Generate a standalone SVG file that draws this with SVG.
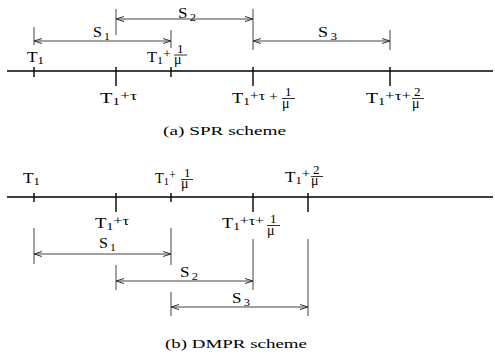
<svg xmlns="http://www.w3.org/2000/svg" width="495" height="358" viewBox="0 0 495 358">
<style>
text{font-family:"Liberation Serif","Times New Roman",serif;fill:#000}
.m{font-size:15px}
.s{font-size:11px}
.p{font-size:13px}
.f{font-size:13px}
.mu{font-size:14px}
.cap{font-size:13px}
.axis{stroke:#000;stroke-width:1.6;fill:none}
.tick{stroke:#111;stroke-width:1.5;fill:none}
.dim{stroke:#444;stroke-width:1;fill:none}
.bar{stroke:#000;stroke-width:0.8}
</style>
<defs>
<marker id="arr" markerUnits="userSpaceOnUse" markerWidth="10" markerHeight="8" refX="9" refY="4" orient="auto-start-reverse">
<path d="M1,1.5 L9,4 L1,6.5" fill="none" stroke="#333" stroke-width="1"/>
</marker>
</defs>
<rect width="495" height="358" fill="#fff"/>

<!-- (a) SPR scheme -->
<g id="axis-a">
<line class="axis" x1="7" y1="71" x2="493" y2="71"/>
<line class="tick" x1="34" y1="67" x2="34" y2="77"/>
<line class="tick" x1="116" y1="67" x2="116" y2="86"/>
<line class="tick" x1="171" y1="67" x2="171" y2="77"/>
<line class="tick" x1="253" y1="67" x2="253" y2="86"/>
<line class="tick" x1="390" y1="67" x2="390" y2="86"/>
</g>
<g id="connectors-a">
<line class="dim" x1="34" y1="27" x2="34" y2="45"/>
<line class="dim" x1="171" y1="30" x2="171" y2="48"/>
<line class="dim" x1="34" y1="41" x2="171" y2="41" marker-start="url(#arr)" marker-end="url(#arr)"/>
<line class="dim" x1="116" y1="9" x2="116" y2="35"/>
<line class="dim" x1="253" y1="9" x2="253" y2="50"/>
<line class="dim" x1="116" y1="19" x2="253" y2="19" marker-start="url(#arr)" marker-end="url(#arr)"/>
<line class="dim" x1="390" y1="30" x2="390" y2="50"/>
<line class="dim" x1="253" y1="41" x2="390" y2="41" marker-start="url(#arr)" marker-end="url(#arr)"/>
</g>
<g id="labels-a">
<text x="93" y="37" textLength="17" lengthAdjust="spacingAndGlyphs"><tspan class="m">S</tspan><tspan class="s" dx="2" dy="3">1</tspan></text>
<text x="178" y="18" textLength="18" lengthAdjust="spacingAndGlyphs"><tspan class="m">S</tspan><tspan class="s" dx="2" dy="3">2</tspan></text>
<text x="318" y="37" textLength="19" lengthAdjust="spacingAndGlyphs"><tspan class="m">S</tspan><tspan class="s" dx="2" dy="3">3</tspan></text>

<text x="27" y="62" textLength="17" lengthAdjust="spacingAndGlyphs"><tspan class="m">T</tspan><tspan class="s" dy="2">1</tspan></text>

<text x="147" y="62" textLength="24" lengthAdjust="spacingAndGlyphs"><tspan class="m">T</tspan><tspan class="s" dy="2">1</tspan><tspan class="p" dy="-6">+</tspan></text>
<text class="f" x="177" y="52.5">1</text><line class="bar" x1="174" y1="55" x2="187" y2="55"/><text class="mu" x="174" y="64">μ</text>

<text x="100" y="103" textLength="37" lengthAdjust="spacingAndGlyphs"><tspan class="m">T</tspan><tspan class="s" dy="2">1</tspan><tspan class="p" dy="-5">+τ</tspan></text>

<text x="232" y="103" textLength="46" lengthAdjust="spacingAndGlyphs"><tspan class="m">T</tspan><tspan class="s" dy="2">1</tspan><tspan class="p" dy="-5">+τ</tspan><tspan class="p" dy="1"> +</tspan></text>
<text class="f" x="285" y="96">1</text><line class="bar" x1="282" y1="98.5" x2="295" y2="98.5"/><text class="mu" x="282" y="107.5">μ</text>

<text x="366" y="103" textLength="45" lengthAdjust="spacingAndGlyphs"><tspan class="m">T</tspan><tspan class="s" dy="2">1</tspan><tspan class="p" dy="-5">+τ+</tspan></text>
<text class="f" x="414" y="96">2</text><line class="bar" x1="412" y1="98.5" x2="424" y2="98.5"/><text class="mu" x="412" y="107.5">μ</text>

<text class="cap" x="163" y="134.5" textLength="123" lengthAdjust="spacingAndGlyphs">(a) SPR scheme</text>
</g>

<!-- (b) DMPR scheme -->
<g id="axis-b">
<line class="axis" x1="7" y1="197" x2="493" y2="197"/>
<line class="tick" x1="34" y1="193" x2="34" y2="202"/>
<line class="tick" x1="116" y1="193" x2="116" y2="212"/>
<line class="tick" x1="171" y1="193" x2="171" y2="202"/>
<line class="tick" x1="253" y1="193" x2="253" y2="212"/>
<line class="tick" x1="308" y1="193" x2="308" y2="212"/>
</g>
<g id="connectors-b">
<line class="dim" x1="34" y1="228" x2="34" y2="264"/>
<line class="dim" x1="171" y1="228" x2="171" y2="265"/>
<line class="dim" x1="34" y1="254" x2="171" y2="254" marker-start="url(#arr)" marker-end="url(#arr)"/>
<line class="dim" x1="116" y1="265" x2="116" y2="290"/>
<line class="dim" x1="253" y1="239" x2="253" y2="290"/>
<line class="dim" x1="116" y1="281" x2="253" y2="281" marker-start="url(#arr)" marker-end="url(#arr)"/>
<line class="dim" x1="171" y1="292" x2="171" y2="316"/>
<line class="dim" x1="308" y1="239" x2="308" y2="316"/>
<line class="dim" x1="171" y1="307" x2="308" y2="307" marker-start="url(#arr)" marker-end="url(#arr)"/>
</g>
<g id="labels-b">
<text x="99" y="248" textLength="17" lengthAdjust="spacingAndGlyphs"><tspan class="m">S</tspan><tspan class="s" dx="2" dy="3">1</tspan></text>
<text x="180" y="277" textLength="18" lengthAdjust="spacingAndGlyphs"><tspan class="m">S</tspan><tspan class="s" dx="2" dy="3">2</tspan></text>
<text x="232" y="303" textLength="18" lengthAdjust="spacingAndGlyphs"><tspan class="m">S</tspan><tspan class="s" dx="2" dy="3">3</tspan></text>

<text x="23" y="183" textLength="17" lengthAdjust="spacingAndGlyphs"><tspan class="m">T</tspan><tspan class="s" dy="2">1</tspan></text>

<text x="155" y="183" textLength="21" lengthAdjust="spacingAndGlyphs"><tspan class="m">T</tspan><tspan class="s" dy="2">1</tspan><tspan class="p" dy="-6">+</tspan></text>
<text class="f" x="184" y="177">1</text><line class="bar" x1="181" y1="179.5" x2="193" y2="179.5"/><text class="mu" x="181" y="188">μ</text>

<text x="285" y="182" textLength="25" lengthAdjust="spacingAndGlyphs"><tspan class="m">T</tspan><tspan class="s" dy="2">1</tspan><tspan class="p" dy="-6">+</tspan></text>
<text class="f" x="313" y="174">2</text><line class="bar" x1="311" y1="176.5" x2="323" y2="176.5"/><text class="mu" x="311" y="185">μ</text>

<text x="95" y="228" textLength="34" lengthAdjust="spacingAndGlyphs"><tspan class="m">T</tspan><tspan class="s" dy="2">1</tspan><tspan class="p" dy="-5">+τ</tspan></text>

<text x="222" y="228" textLength="42" lengthAdjust="spacingAndGlyphs"><tspan class="m">T</tspan><tspan class="s" dy="2">1</tspan><tspan class="p" dy="-5">+τ+</tspan></text>
<text class="f" x="270" y="223">1</text><line class="bar" x1="267" y1="225.5" x2="280" y2="225.5"/><text class="mu" x="267" y="234.5">μ</text>

<text class="cap" x="165" y="348" textLength="142" lengthAdjust="spacingAndGlyphs">(b) DMPR scheme</text>
</g>
</svg>
